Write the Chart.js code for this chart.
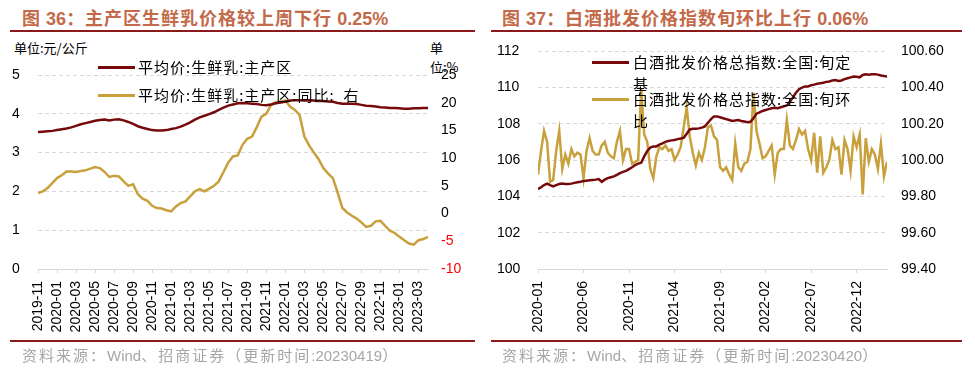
<!DOCTYPE html>
<html>
<head>
<meta charset="utf-8">
<script src="https://cdn.jsdelivr.net/npm/chart.js@4/dist/chart.umd.min.js"></script>
<style>
body { margin: 0; width: 975px; height: 371px; background: #fff; position: relative; overflow: hidden; }
.abs { position: absolute; white-space: nowrap; }
.title { font-family: "Noto Sans CJK SC"; font-weight: bold; font-size: 18px; letter-spacing: 1px; color: #C36A4A; top: 4px; }
.rule { height: 2px; background: #8B1A1A; }
.src { font-family: "Noto Sans CJK SC"; font-size: 15px; letter-spacing: 2px; color: #A6A6A6; top: 344px; }
.num { letter-spacing: 0; font-family: "Liberation Sans"; }
.unit { font-family: "Noto Sans CJK SC"; font-size: 13px; color: #000; }
.leg { font-family: "Noto Sans CJK SC"; font-size: 15px; letter-spacing: 1px; color: #000; line-height: 22px; white-space: pre; z-index: 2; }
.swatch { height: 3px; width: 37px; z-index: 2; }
canvas { position: absolute; top: 0; }
</style>
</head>
<body>
<!-- left: milk -->
<div class="abs title" style="left:22px">图 <span class="num">36</span>：主产区生鲜乳价格较上周下行 <span class="num">0.25%</span></div>
<div class="abs rule" style="left:10px;width:465px;top:30px"></div>
<div class="abs unit" style="left:14px;top:38px">单位:元/公斤</div>
<div class="abs unit" style="left:430px;top:38px">单</div>
<div class="abs unit" style="left:430px;top:57px">位:%</div>
<canvas id="milk" width="487" height="341" style="left:0"></canvas>
<div class="abs swatch" style="left:98px;top:66px;background:#760A0A"></div>
<div class="abs leg" style="left:138px;top:56px">平均价:生鲜乳:主产区</div>
<div class="abs swatch" style="left:98px;top:94px;background:#C8A03C"></div>
<div class="abs leg" style="left:138px;top:84px">平均价:生鲜乳:主产区:同比:  右</div>
<div class="abs rule" style="left:10px;width:465px;top:340px"></div>
<div class="abs src" style="left:22px">资料来源：<span class="num">Wind</span>、招商证券（更新时间<span class="num">:20230419</span>）</div>

<!-- right: baijiu -->
<div class="abs title" style="left:502px">图 <span class="num">37</span>：白酒批发价格指数旬环比上行 <span class="num">0.06%</span></div>
<div class="abs rule" style="left:491px;width:471px;top:30px"></div>
<canvas id="liquor" width="488" height="341" style="left:487px"></canvas>
<div class="abs swatch" style="left:592px;top:61px;background:#760A0A"></div>
<div class="abs leg" style="left:633px;top:51px">白酒批发价格总指数:全国:旬定<br>基</div>
<div class="abs swatch" style="left:592px;top:98px;background:#C8A03C"></div>
<div class="abs leg" style="left:633px;top:88px">白酒批发价格总指数:全国:旬环<br>比</div>
<div class="abs rule" style="left:491px;width:471px;top:340px"></div>
<div class="abs src" style="left:502px">资料来源：<span class="num">Wind</span>、招商证券（更新时间<span class="num">:20230420</span>）</div>

<script>
// fig 36: half-monthly readings from 2019-11
const milkTickLabels = ['2019-11', '2020-01', '2020-03', '2020-05', '2020-07', '2020-09', '2020-11',
    '2021-01', '2021-03', '2021-05', '2021-07', '2021-09', '2021-11',
    '2022-01', '2022-03', '2022-05', '2022-07', '2022-09', '2022-11', '2023-01', '2023-03'];
const milkPrice = [3.53, 3.54, 3.55, 3.56, 3.58, 3.60, 3.62, 3.65, 3.69, 3.73, 3.76, 3.79, 3.82, 3.84, 3.85,
    3.83, 3.85, 3.86, 3.83, 3.79, 3.74, 3.68, 3.64, 3.61, 3.58, 3.57, 3.57, 3.58, 3.61, 3.63,
    3.67, 3.72, 3.78, 3.85, 3.91, 3.95, 3.99, 4.04, 4.10, 4.16, 4.21, 4.24, 4.27, 4.28, 4.27,
    4.26, 4.25, 4.23, 4.22, 4.24, 4.27, 4.29, 4.31, 4.34, 4.35, 4.35, 4.34, 4.35, 4.34, 4.33,
    4.33, 4.32, 4.31, 4.28, 4.26, 4.26, 4.26, 4.25, 4.23, 4.21, 4.20, 4.19, 4.17, 4.16, 4.15,
    4.15, 4.14, 4.13, 4.13, 4.14, 4.14, 4.15, 4.15];
const milkYoY = [3.7, 4.0, 4.6, 5.5, 6.4, 6.9, 7.6, 7.6, 7.5, 7.7, 7.8, 8.1, 8.4, 8.2, 7.5,
    6.6, 6.8, 6.7, 5.8, 5.0, 5.3, 3.5, 2.7, 2.3, 1.4, 1.0, 0.9, 0.6, 0.4, 1.3,
    1.9, 2.2, 3.1, 4.0, 4.4, 4.0, 4.5, 5.0, 5.8, 7.5, 9.2, 10.3, 10.5, 12.4, 13.5,
    13.9, 15.6, 17.5, 18.0, 19.6, 20.1, 20.2, 20.4, 19.3, 18.7, 17.8, 13.9, 12.3, 11.0, 9.8,
    8.2, 7.2, 6.4, 3.8, 1.0, 0.2, -0.4, -0.9, -1.6, -2.4, -2.2, -1.4, -1.3, -2.2, -3.1,
    -3.5, -4.2, -4.8, -5.4, -5.6, -4.8, -4.6, -4.2];
const MILK_STEP = 0.5;   // months between readings

// fig 37: one value per 旬 from 2020-01
const liquorTickLabels = ['2020-01', '2020-06', '2020-11', '2021-04', '2021-09', '2022-02', '2022-07', '2022-12'];
const liquorIndex = [104.40, 104.50, 104.62, 104.70, 104.62, 104.55, 104.62, 104.68, 104.70, 104.68,
    104.68, 104.70, 104.74, 104.78, 104.80, 104.84, 104.86, 104.88, 104.90, 104.92,
    104.95, 104.80, 104.92, 105.00, 105.05, 105.10, 105.18, 105.28, 105.35, 105.40,
    105.50, 105.60, 105.72, 105.80, 105.85, 106.20, 106.50, 106.68, 106.75, 106.75,
    106.85, 106.92, 107.00, 107.05, 107.08, 107.10, 107.15, 107.18, 107.22, 107.45,
    107.68, 107.72, 107.72, 107.74, 107.78, 107.85, 108.05, 108.25, 108.40, 108.40,
    108.35, 108.30, 108.25, 108.20, 108.15, 108.18, 108.20, 108.15, 108.12, 108.08,
    108.10, 108.30, 108.55, 108.62, 108.70, 108.75, 108.80, 108.85, 108.88, 108.85,
    108.90, 108.95, 109.00, 109.20, 109.45, 109.70, 109.90, 109.98, 110.05, 110.05,
    110.12, 110.15, 110.20, 110.22, 110.25, 110.30, 110.32, 110.38, 110.40, 110.35,
    110.38, 110.45, 110.50, 110.55, 110.60, 110.58, 110.55, 110.68, 110.72, 110.70,
    110.72, 110.72, 110.70, 110.65, 110.62, 110.60];
const liquorMoM = [99.92, 100.05, 100.16, 100.10, 99.88, 99.89, 100.05, 100.16, 99.95, 100.03,
    99.98, 100.06, 100.02, 100.04, 100.03, 99.90, 100.05, 100.12, 100.05, 100.03,
    100.03, 100.08, 100.10, 100.04, 100.02, 100.01, 100.10, 100.16, 100.00, 100.06,
    100.06, 99.98, 99.99, 100.00, 100.39, 100.14, 100.10, 99.95, 99.90, 100.02,
    100.07, 100.06, 100.08, 100.05, 100.06, 100.00, 100.03, 100.07, 100.18, 100.29,
    100.13, 100.04, 99.97, 100.04, 100.00, 100.07, 100.18, 100.19, 100.13, 100.11,
    99.96, 99.94, 99.96, 99.92, 99.89, 100.09, 99.96, 99.94, 99.98, 99.99,
    100.06, 100.37, 100.16, 100.09, 100.01, 100.02, 100.05, 100.08, 99.92, 100.04,
    100.06, 100.06, 100.22, 100.08, 100.06, 100.11, 100.17, 100.14, 100.16, 100.06,
    100.00, 100.15, 99.93, 100.13, 99.93, 99.96, 100.00, 100.11, 100.06, 100.07,
    99.92, 100.11, 100.06, 99.94, 100.13, 100.07, 100.14, 99.81, 100.12, 99.99,
    100.06, 100.03, 99.95, 100.09, 99.91, 99.99];
const LIQUOR_STEP = 1 / 3; // months per 旬

const DARK_RED = '#760A0A';
const GOLD = '#C8A03C';
const GRID = '#D9D9D9';
const tickFont = { family: 'Liberation Sans', size: 14 };

function toPoints(values, step) {
    return values.map((v, i) => ({ x: i * step, y: v }));
}

function lineSet(data, color, axis) {
    return {
        data: data,
        yAxisID: axis,
        borderColor: color,
        borderWidth: 2.5,
        pointRadius: 0,
        tension: 0,
        fill: false
    };
}

function xAxis(max, step, labels) {
    return {
        type: 'linear',
        min: 0,
        max: max,
        grid: { display: true, drawOnChartArea: false, drawTicks: true, tickLength: 4, color: GRID },
        border: { display: true, color: GRID, width: 1 },
        afterBuildTicks: s => { s.ticks = s.ticks.filter(t => Math.abs(t.value / step - Math.round(t.value / step)) < 1e-6); },
        ticks: {
            stepSize: step,
            includeBounds: false,
            autoSkip: false,
            minRotation: 90,
            maxRotation: 90,
            padding: 8,
            color: '#000',
            font: tickFont,
            callback: v => labels[Math.round(v / step)] ?? ''
        },
        afterFit: s => { s.height = 72; }
    };
}

function leftAxis(min, max, step, width) {
    return {
        position: 'left',
        min: min,
        max: max,
        grid: {
            color: ctx => ctx.tick.value === min ? 'rgba(0,0,0,0)' : GRID,
            drawTicks: false
        },
        border: { display: false, dash: [4, 3] },
        ticks: { stepSize: step, crossAlign: 'far', padding: 0, color: '#000', font: tickFont },
        afterFit: s => { s.width = width; }
    };
}

function rightAxis(min, max, step, width, pad, fmt, colorFn) {
    return {
        position: 'right',
        min: min,
        max: max,
        grid: { display: false, drawTicks: false },
        border: { display: false },
        ticks: { stepSize: step, padding: pad, color: colorFn, font: tickFont, callback: fmt },
        afterFit: s => { s.width = width; }
    };
}

const common = {
    responsive: false,
    animation: false,
    devicePixelRatio: 1,
    plugins: { legend: { display: false }, tooltip: { enabled: false } }
};

new Chart(document.getElementById('milk'), {
    type: 'line',
    data: {
        datasets: [
            lineSet(toPoints(milkPrice, MILK_STEP), DARK_RED, 'y'),
            lineSet(toPoints(milkYoY, MILK_STEP), GOLD, 'y1')
        ]
    },
    options: {
        ...common,
        layout: { padding: { left: 12, top: 75, right: 0, bottom: 0 } },
        scales: {
            x: xAxis((milkPrice.length - 1) * MILK_STEP, 2, milkTickLabels),
            y: leftAxis(0, 5, 1, 26),
            y1: rightAxis(-10, 25, 5, 59, 13, v => v, ctx => ctx.tick.value < 0 ? '#FF0000' : '#000')
        }
    }
});

new Chart(document.getElementById('liquor'), {
    type: 'line',
    data: {
        datasets: [
            lineSet(toPoints(liquorIndex, LIQUOR_STEP), DARK_RED, 'y'),
            lineSet(toPoints(liquorMoM, LIQUOR_STEP), GOLD, 'y1')
        ]
    },
    options: {
        ...common,
        layout: { padding: { left: 10, top: 51, right: 0, bottom: 0 } },
        scales: {
            x: xAxis((liquorIndex.length - 1) * LIQUOR_STEP, 5, liquorTickLabels),
            y: leftAxis(100, 112, 2, 41),
            y1: rightAxis(99.4, 100.6, 0.2, 88, 14, v => v.toFixed(2), '#000')
        }
    }
});
</script>
</body>
</html>
